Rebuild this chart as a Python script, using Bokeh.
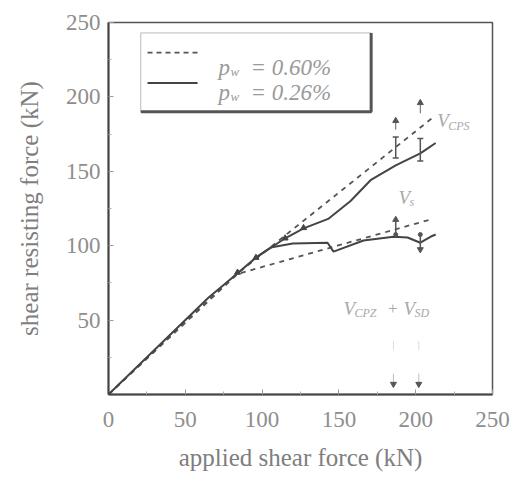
from bokeh.plotting import figure
from bokeh.models import Range1d, FixedTicker
from bokeh.embed import file_html
from bokeh.resources import INLINE
from bokeh.core.properties import value

# ---------------- data ----------------
x_ticks = [0, 50, 100, 150, 200, 250]
y_ticks = [50, 100, 150, 200, 250]
minor_ticks = [25, 75, 125, 175, 225]

# p_w = 0.60 % (dashed)
dash_upper_x = [0, 80, 211]
dash_upper_y = [0, 78, 186]
dash_lower_x = [0, 84, 149, 211]
dash_lower_y = [0, 81, 100, 118]

# p_w = 0.26 % (solid)
solid_upper_x = [0, 65, 80, 96, 115, 127, 143, 157.6, 170.6, 187, 203, 213]
solid_upper_y = [0, 65, 78, 92, 105, 111.6, 118, 130, 144, 154, 162, 169]
solid_lower_x = [96, 105.5, 120, 142.6, 146.5, 166, 185.5, 194.7, 203, 209.6, 213]
solid_lower_y = [92, 98.8, 101.5, 102, 96, 103.5, 106, 105.5, 102, 106, 107.5]

# small measurement marks on the solid curve
node_x = [84, 96, 115, 127]
node_y = [82, 92, 105, 112]

# vertical marks at the two load stages
mark_x = [187, 203]
upper_tip_y = [184, 196]
upper_stem_lo = [178, 189]
upper_bar_lo = [159, 157]
upper_bar_hi = [173, 172]
lower_top_y = [117.5, 107.5]
lower_bot_y = [105.5, 97.5]
bottom_mark_x = [185.5, 202]
bottom_tip_y = [5, 5]
bottom_stem_hi = [14, 14]
faint_mark_lo = [30, 30]
faint_mark_hi = [36, 36]

legend_labels = ["= 0.60%", "= 0.26%"]

SERIF = "Liberation Serif, Times New Roman, serif"

# ---------------- figure ----------------
p = figure(width=518, height=477, output_backend="svg", toolbar_location=None,
           x_range=Range1d(0, 250), y_range=Range1d(0, 250),
           min_border_left=108, min_border_right=26, min_border_top=22, min_border_bottom=83)
p.background_fill_color = "white"
p.border_fill_color = "white"
p.xgrid.visible = False
p.ygrid.visible = False
p.outline_line_color = "#555555"
p.outline_line_width = 1.5

for ax in (p.xaxis, p.yaxis):
    ax.axis_line_color = "#444444"
    ax.axis_line_width = 2
    ax.major_tick_in = 5
    ax.major_tick_out = 0
    ax.minor_tick_in = 3
    ax.minor_tick_out = 0
    ax.major_tick_line_color = "#999999"
    ax.minor_tick_line_color = "#aaaaaa"
    ax.major_label_text_font = SERIF
    ax.major_label_text_font_size = "23px"
    ax.major_label_text_color = "#8e8e8e"
    ax.axis_label_text_font = SERIF
    ax.axis_label_text_font_style = "normal"
    ax.axis_label_text_font_size = "25px"
    ax.axis_label_text_color = "#7e7e7e"

p.xaxis.ticker = FixedTicker(ticks=x_ticks, minor_ticks=minor_ticks)
p.yaxis.ticker = FixedTicker(ticks=y_ticks, minor_ticks=minor_ticks)
p.xaxis.axis_label = "applied shear force (kN)"
p.yaxis.axis_label = "shear resisting force (kN)"
p.xaxis.major_label_standoff = 17
p.xaxis.axis_label_standoff = 14
p.yaxis.major_label_standoff = 8
p.yaxis.axis_label_standoff = 20

line_col = "#444444"
p.line(dash_upper_x, dash_upper_y, line_color="#555555", line_width=1.8, line_dash="5 5")
p.line(dash_lower_x, dash_lower_y, line_color="#555555", line_width=1.8, line_dash="5 5")
p.line(solid_upper_x, solid_upper_y, line_color=line_col, line_width=2)
p.line(solid_lower_x, solid_lower_y, line_color=line_col, line_width=2)
p.scatter(node_x, node_y, marker="triangle", size=6, color=line_col)

# vertical marks
p.segment(x0=mark_x, y0=upper_stem_lo, x1=mark_x, y1=upper_tip_y, line_color="#666666", line_width=1)
p.scatter(mark_x, upper_tip_y, marker="triangle", size=6, color="#555555")
p.segment(x0=mark_x, y0=upper_bar_lo, x1=mark_x, y1=upper_bar_hi, line_color="#555555", line_width=1.5)
p.scatter(mark_x, upper_bar_lo, marker="dash", size=6, color="#555555", line_width=1.5)
p.scatter(mark_x, upper_bar_hi, marker="dash", size=6, color="#555555", line_width=1.5)
p.segment(x0=mark_x, y0=lower_bot_y, x1=mark_x, y1=lower_top_y, line_color="#555555", line_width=1.5)
p.scatter(mark_x[:1], lower_top_y[:1], marker="triangle", size=6, color="#555555")
p.scatter(mark_x[1:], lower_bot_y[1:], marker="inverted_triangle", size=6, color="#555555")
p.scatter(mark_x, [lower_top_y[1], lower_top_y[1]], marker="circle", size=4, color="#555555")
p.segment(x0=bottom_mark_x, y0=bottom_tip_y, x1=bottom_mark_x, y1=bottom_stem_hi,
          line_color="#bbbbbb", line_width=1)
p.segment(x0=bottom_mark_x, y0=faint_mark_lo, x1=bottom_mark_x, y1=faint_mark_hi,
          line_color="#dddddd", line_width=1)
p.scatter(bottom_mark_x, [y + 2 for y in bottom_tip_y], marker="inverted_triangle", size=6, color="#555555")

# legend box (drawn by hand so that the subscript can be shown)
p.quad(left=[21], right=[171], bottom=[190], top=[243], fill_color="white",
       line_color="#bbbbbb", line_width=1)
p.line([21, 171, 171], [190, 190, 243], line_color="#555555", line_width=3)
p.line([25.4, 58], [229.8, 229.8], line_color="#555555", line_width=1.8, line_dash="5 4")
p.line([25.4, 58], [209.3, 209.3], line_color=line_col, line_width=2)

serif = value(SERIF)
leg_y = [220, 203]
p.text(x=[71.6, 71.6], y=leg_y, text=["p", "p"], text_font=serif, text_font_style="italic",
       text_font_size="23px", text_color="#9a9a9a", text_baseline="alphabetic")
p.text(x=[71.6, 71.6], y=leg_y, text=["w", "w"], x_offset=12, y_offset=4, text_font=serif,
       text_font_style="italic", text_font_size="13px", text_color="#9a9a9a", text_baseline="alphabetic")
p.text(x=[71.6, 71.6], y=leg_y, text=legend_labels, x_offset=32, text_font=serif,
       text_font_style="italic", text_font_size="23px", text_color="#9a9a9a", text_baseline="alphabetic")

# annotations
ann_col = "#a8a8a8"
p.text(x=[214, 188.8, 153, 192], y=[184, 132.4, 58, 58], text=["V", "V", "V", "V"],
       text_font=serif, text_font_style="italic", text_font_size="19px",
       text_color=ann_col, text_baseline="alphabetic")
p.text(x=[214, 188.8, 153, 192], y=[184, 132.4, 58, 58], text=["CPS", "s", "CPZ", "SD"],
       x_offset=11, y_offset=5, text_font=serif, text_font_style="italic", text_font_size="12px",
       text_color=ann_col, text_baseline="alphabetic")
p.text(x=[182], y=[58], text=["+"], text_font=serif, text_font_size="17px",
       text_color=ann_col, text_baseline="alphabetic")

open("out.html", "w").write(file_html(p, INLINE))
